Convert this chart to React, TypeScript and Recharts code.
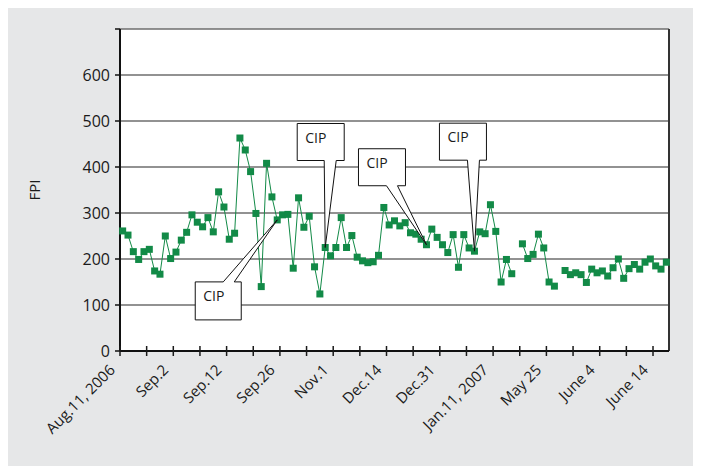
import React from 'react'
import {
  LineChart,
  Line,
  XAxis,
  YAxis,
  CartesianGrid,
  ReferenceLine,
  ReferenceDot,
  Label
} from 'recharts'

// FPI readings, one per sampling day (null = no sample that day)
const fpiValues: (number | null)[] = [
  261, 252, 216, 199, 216, 221, 174, 167, 250, 201,
  215, 241, 258, 296, 280, 270, 290, 259, 346, 313,
  243, 256, 463, 437, 390, 299, 140, 408, 335, 285,
  296, 297, 180, 333, 269, 293, 183, 124, 225, 207,
  225, 290, 225, 251, 204, 196, 192, 194, 208, 312,
  274, 283, 272, 279, 257, 254, 243, 231, 265, 247,
  231, 214, 253, 182, 253, 224, 217, 259, 255, 318,
  260, 150, 199, 168, null, 233, 201, 210, 254, 224,
  150, 141, null, 175, 166, 170, 166, 149, 178, 170,
  174, 163, 181, 200, 158, 179, 188, 178, 193, 200,
  185, 178, 193
]

// tick marks every 5 samples, a date label every 10
const tickSteps = [0, 5, 10, 15, 20, 25, 30, 35, 40, 45, 50, 55, 60, 65, 70, 75, 80, 85, 90, 95, 100]
const dateLabels = [
  'Aug.11, 2006', 'Sep.2', 'Sep.12', 'Sep.26', 'Nov.1', 'Dec.14',
  'Dec.31', 'Jan.11, 2007', 'May 25', 'June 4', 'June 14'
]
const yTicks = [0, 100, 200, 300, 400, 500, 600, 700]

// samples where a CIP (cleaning in place) was done
const cipIndex = [29, 38, 57, 66]

const data = fpiValues.map((v, i) => ({ x: i + 0.5, fpi: v }))

const GREEN = '#128a47'
const FONT = 'Open Sans'

// callout boxes, offsets relative to the point they mark
const cipLayout = [
  { left: -82, top: 62, w: 46, h: 38, edge: 'top', b1: -54, b2: -43 },
  { left: -28, top: -124, w: 47, h: 37, edge: 'bottom', b1: -1, b2: 11 },
  { left: -68, top: -96, w: 47, h: 37, edge: 'bottom', b1: -40, b2: -29 },
  { left: -35, top: -128, w: 47, h: 37, edge: 'bottom', b1: -7, b2: 5 }
]

function DateTick(props: any) {
  const { x, y, payload } = props
  const step = payload.value
  const label = step % 10 === 0 ? dateLabels[step / 10] : ''
  const tx = x - 4
  const ty = y + 20
  return (
    <g>
      <line x1={x} x2={x} y1={y - 5} y2={y + 5} stroke="#1a1a1a" strokeWidth={1.5} />
      {label && (
        <text
          x={tx}
          y={ty}
          transform={`rotate(-45 ${tx} ${ty})`}
          textAnchor="end"
          fontSize={15}
          fontFamily={FONT}
          fill="#1a1a1a"
        >
          {label}
        </text>
      )}
    </g>
  )
}

function SquareDot(props: any) {
  const { cx, cy, index, value } = props
  if (cx == null || cy == null || value == null) return <g key={index} />
  return <rect key={index} x={cx - 3.5} y={cy - 3.5} width={7} height={7} fill={GREEN} />
}

function makeCallout(k: number) {
  const c = cipLayout[k]
  return (props: any) => {
    const { cx, cy } = props
    const L = cx + c.left
    const T = cy + c.top
    const R = L + c.w
    const B = T + c.h
    const d =
      c.edge === 'top'
        ? `M${L},${T} L${cx + c.b1},${T} L${cx},${cy} L${cx + c.b2},${T} L${R},${T} L${R},${B} L${L},${B} Z`
        : `M${L},${T} L${R},${T} L${R},${B} L${cx + c.b2},${B} L${cx},${cy} L${cx + c.b1},${B} L${L},${B} Z`
    return (
      <g>
        <path d={d} fill="#fff" stroke="#111" strokeWidth={1} />
        <text x={L + 8} y={T + 19} fontSize={14} fontFamily={FONT} fill="#1a1a1a">
          CIP
        </text>
      </g>
    )
  }
}

export default function App() {
  return (
    <div style={{ width: 693, height: 463, marginTop: -5, background: '#e6e7e8' }}>
      <LineChart
        width={693}
        height={463}
        data={data}
        margin={{ top: 26, right: 32, bottom: 15, left: 0 }}
      >
        <CartesianGrid vertical={false} fill="#fff" stroke="#6e6e6e" strokeWidth={1.5} />
        <XAxis
          dataKey="x"
          type="number"
          domain={[0, 103]}
          ticks={tickSteps}
          interval={0}
          height={100}
          tickSize={0}
          tickMargin={0}
          tickLine={false}
          tick={<DateTick />}
          axisLine={{ stroke: '#111', strokeWidth: 2 }}
        />
        <YAxis
          domain={[0, 700]}
          ticks={yTicks}
          interval={0}
          width={112}
          tickSize={5}
          tickMargin={5}
          axisLine={{ stroke: '#111', strokeWidth: 2 }}
          tickLine={{ stroke: '#111', strokeWidth: 1.5 }}
          tick={{ fontSize: 16, fill: '#1a1a1a', fontFamily: FONT }}
          tickFormatter={(v: number) => (v === 700 ? '' : String(v))}
        >
          <Label
            content={(p: any) => {
              const vb = p.viewBox
              const x = vb.x + 26
              const y = vb.y + vb.height / 2
              return (
                <text
                  x={x}
                  y={y}
                  transform={`rotate(-90 ${x} ${y})`}
                  textAnchor="middle"
                  dominantBaseline="central"
                  fontSize={15}
                  fontFamily={FONT}
                  fill="#1a1a1a"
                >
                  FPI
                </text>
              )
            }}
          />
        </YAxis>
        <ReferenceLine x={103} stroke="#333" strokeWidth={2} />
        <Line
          dataKey="fpi"
          stroke={GREEN}
          strokeWidth={1}
          dot={<SquareDot />}
          activeDot={false}
          isAnimationActive={false}
        />
        {cipIndex.map((idx, k) => (
          <ReferenceDot
            key={idx}
            x={idx + 0.5}
            y={fpiValues[idx] as number}
            ifOverflow="visible"
            shape={makeCallout(k)}
          />
        ))}
      </LineChart>
    </div>
  )
}
